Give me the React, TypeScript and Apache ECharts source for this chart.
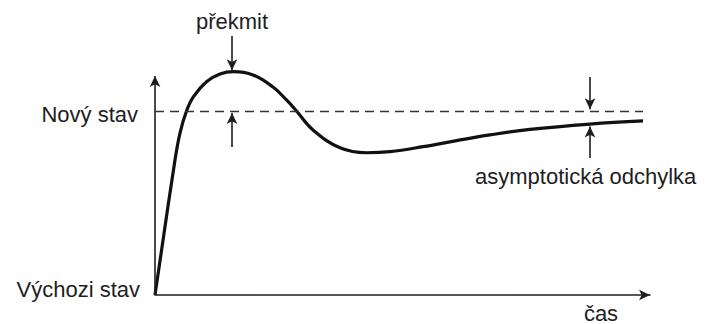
import React, { useEffect, useRef } from "react";
import * as echarts from "echarts";

// Response curve (time units, level units: 0 = initial, 1 = new state)
const times = [0, 0.4, 0.5, 0.63, 0.77, 1.03, 1.3, 1.57, 1.96, 2.36, 2.63, 2.83, 3.16, 3.7, 4.23, 4.7, 5.36, 6.03, 6.7, 7.5, 8.7, 9.76];
const response = [0, 0.734, 0.88, 1.0, 1.078, 1.159, 1.201, 1.214, 1.196, 1.13, 1.06, 1.0, 0.897, 0.8, 0.773, 0.779, 0.806, 0.839, 0.87, 0.9, 0.929, 0.946];

const newStateLevel = 1;
const levelAxisTop = 1.19;
const levelLabels = ["Výchozi stav", "Nový stav"];
const overshootLabel = "překmit";
const deviationLabel = "asymptotická odchylka";
const timeLabel = "čas";

// annotation arrows: [x, fromY, toY]
const overshootArrows = [
  [1.54, 1.407, 1.222],
  [1.54, 0.804, 0.989],
];
const deviationArrows = [
  [8.7, 1.185, 1.01],
  [8.7, 0.744, 0.916],
];

const FONT = "'Liberation Sans', Arial, sans-serif";
const INK = "#1e1e1e";

export default function App() {
  const ref = useRef<HTMLDivElement>(null);
  useEffect(() => {
    const chart = echarts.init(ref.current!, null, { renderer: "svg", width: 708, height: 324 });
    const solid = (w: number) => ({ type: "solid", width: w, color: INK });
    const arrowLines = [...overshootArrows, ...deviationArrows].map(([x, y0, y1]) => [
      { coord: [x, y0], symbol: "none", lineStyle: solid(1.6) },
      { coord: [x, y1], symbol: "arrow", symbolSize: [8, 11], lineStyle: solid(1.6) },
    ]);
    const lastT = times[times.length - 1];
    chart.setOption({
      animation: false,
      backgroundColor: "#ffffff",
      grid: { left: 155, top: 28.2, width: 495, height: 266.8 },
      xAxis: {
        type: "value",
        min: 0,
        max: 9.9,
        axisLine: { show: true, onZero: false, symbol: ["none", "arrow"], symbolSize: [8, 11], lineStyle: { color: INK, width: 1.6 } },
        axisTick: { show: false },
        axisLabel: { show: false },
        splitLine: { show: false },
      },
      yAxis: {
        type: "value",
        min: 0,
        max: 1.45,
        axisLine: { show: false },
        axisTick: { show: false },
        axisLabel: { show: false },
        splitLine: { show: false },
      },
      series: [
        {
          type: "line",
          data: times.map((t, i) => [t, response[i]]),
          smooth: 0.4,
          showSymbol: false,
          symbol: "none",
          clip: false,
          lineStyle: { color: "#111", width: 3.2 },
          markLine: {
            silent: true,
            symbol: ["none", "arrow"],
            symbolSize: [8, 10],
            label: { show: false },
            data: [
              [
                { coord: [0, 0], symbol: "none", lineStyle: solid(1.6) },
                { coord: [0, levelAxisTop], symbol: "arrow", symbolSize: [8, 11], lineStyle: solid(1.6) },
              ],
              [
                { coord: [0, newStateLevel], symbol: "none", lineStyle: { type: [9, 6], width: 1.3, color: "#333" } },
                { coord: [lastT, newStateLevel], symbol: "none", lineStyle: { type: [9, 6], width: 1.3, color: "#333" } },
              ],
              ...arrowLines,
            ],
          },
        },
      ],
      graphic: [
        { type: "text", x: 232, y: 21, style: { text: overshootLabel, font: `22px ${FONT}`, fill: INK, textAlign: "center", textVerticalAlign: "middle" } },
        { type: "text", x: 138, y: 114, style: { text: levelLabels[1], font: `22px ${FONT}`, fill: INK, textAlign: "right", textVerticalAlign: "middle" } },
        { type: "text", x: 140, y: 289, style: { text: levelLabels[0], font: `22px ${FONT}`, fill: INK, textAlign: "right", textVerticalAlign: "middle" } },
        { type: "text", x: 475, y: 176, style: { text: deviationLabel, font: `22px ${FONT}`, fill: INK, textAlign: "left", textVerticalAlign: "middle" } },
        { type: "text", x: 601, y: 313, style: { text: timeLabel, font: `22px ${FONT}`, fill: INK, textAlign: "center", textVerticalAlign: "middle" } },
      ],
    });
    return () => chart.dispose();
  }, []);
  return <div ref={ref} style={{ position: "absolute", left: 0, top: 0, width: 708, height: 324, background: "#fff" }} />;
}
